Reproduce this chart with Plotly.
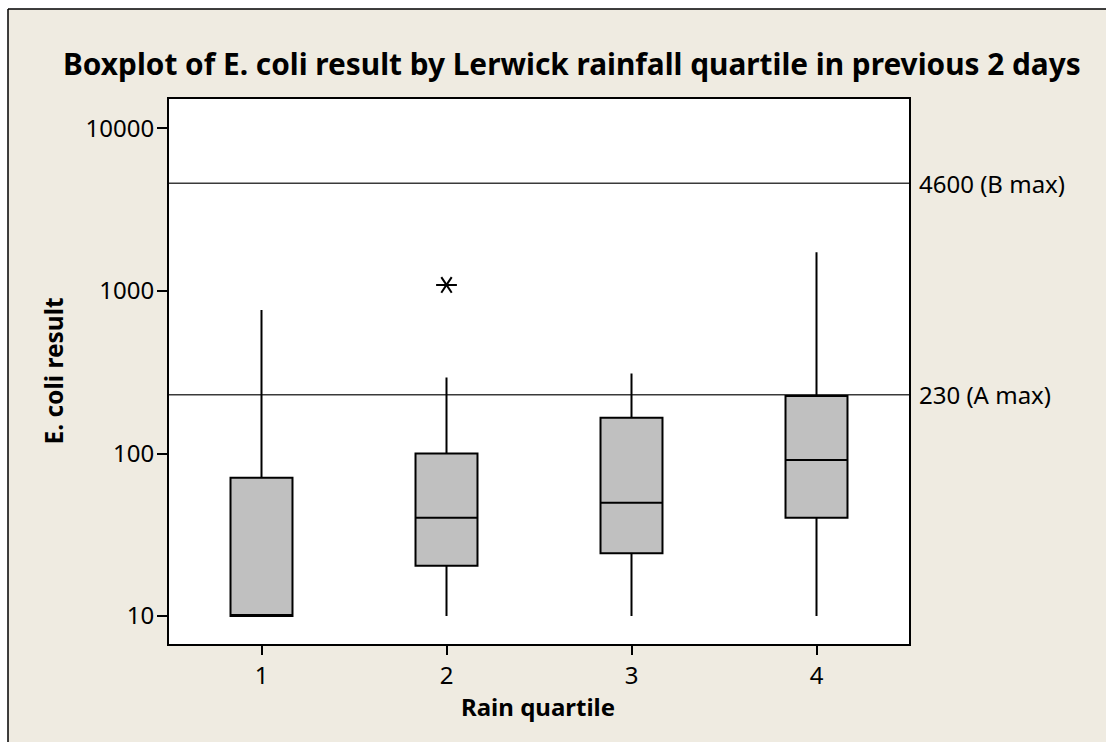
import plotly.graph_objects as go
import math

# Data
quartiles = [1, 2, 3, 4]
q1 = [10, 20.4, 24.3, 40.3]
median = [10, 40.3, 49.8, 91.2]
q3 = [71, 100, 166, 226]
lower_whisker = [10, 10, 10, 10]
upper_whisker = [764, 294, 311, 1730]
outlier_x = [2]
outlier_y = [1090]
ref_values = [4600, 230]
ref_labels = ["4600 (B max)", "230 (A max)"]
y_tickvals = [10, 100, 1000, 10000]
y_ticktext = ["10", "100", "1000", "10000"]

FONT = "Noto Sans"
BG = "#EFEBE1"

fig = go.Figure()

fig.add_trace(go.Box(
    x=quartiles, q1=q1, median=median, q3=q3,
    lowerfence=lower_whisker, upperfence=upper_whisker,
    boxpoints=False, width=0.335,
    fillcolor="#C0C0C0", line=dict(color="black", width=2),
    whiskerwidth=0, showlegend=False, hoverinfo="skip",
))

for sym in ["y-left-open", "y-right-open"]:
    fig.add_trace(go.Scatter(
        x=outlier_x, y=outlier_y, mode="markers",
        marker=dict(symbol=sym, size=13, color="black",
                    line=dict(color="black", width=2)),
        showlegend=False, hoverinfo="skip",
    ))

# margins so plot area = x 169..909, y 99..644
L, R, T, B = 169, 197, 99, 98
W, H = 1106, 742
pw, ph = W - L - R, H - T - B

def px_x(px):
    return (px - L) / pw

def px_y(py):
    return (H - B - py) / ph

shapes = []
for v in ref_values:
    shapes.append(dict(type="line", xref="paper", x0=0, x1=1, yref="y",
                       y0=v, y1=v, line=dict(color="#3A3A3A", width=1.6),
                       layer="below"))

# outer frame: white strips at top/left with black border lines
shapes.append(dict(type="rect", xref="paper", yref="paper",
                   x0=px_x(-5), x1=px_x(W + 5), y0=px_y(9), y1=px_y(-5),
                   fillcolor="white", line=dict(width=0)))
shapes.append(dict(type="rect", xref="paper", yref="paper",
                   x0=px_x(-5), x1=px_x(8), y0=px_y(H + 5), y1=px_y(-5),
                   fillcolor="white", line=dict(width=0)))
shapes.append(dict(type="line", xref="paper", yref="paper",
                   x0=px_x(8), x1=px_x(W + 5), y0=px_y(9), y1=px_y(9),
                   line=dict(color="black", width=1.5)))
shapes.append(dict(type="line", xref="paper", yref="paper",
                   x0=px_x(8), x1=px_x(8), y0=px_y(9), y1=px_y(H + 5),
                   line=dict(color="black", width=1.5)))

annotations = []
for v, lab in zip(ref_values, ref_labels):
    annotations.append(dict(text=lab, xref="paper", x=1, xshift=8,
                            xanchor="left", yref="y", y=math.log10(v),
                            yanchor="middle", showarrow=False,
                            font=dict(family=FONT, size=24, color="black")))

annotations.append(dict(
    text="<b>Boxplot of E. coli result by Lerwick rainfall quartile in previous 2 days</b>",
    xref="paper", yref="paper", x=px_x(572), y=px_y(63),
    xanchor="center", yanchor="middle", showarrow=False,
    font=dict(family=FONT, size=29.8, color="black")))
annotations.append(dict(
    text="<b>Rain quartile</b>", xref="paper", yref="paper",
    x=px_x(538), y=px_y(706), xanchor="center", yanchor="middle",
    showarrow=False, font=dict(family=FONT, size=24, color="black")))
annotations.append(dict(
    text="<b>E. coli result</b>", xref="paper", yref="paper",
    x=px_x(53), y=0.5, xanchor="center", yanchor="middle", textangle=-90,
    showarrow=False, font=dict(family=FONT, size=24.5, color="black")))

fig.update_layout(
    width=W, height=H,
    margin=dict(l=L, r=R, t=T, b=B, pad=0),
    paper_bgcolor=BG, plot_bgcolor="white",
    shapes=shapes, annotations=annotations,
    font=dict(family=FONT, size=24, color="black"),
)

fig.update_xaxes(
    range=[0.5, 4.5], tickvals=quartiles, ticktext=[str(q) for q in quartiles],
    ticks="outside", ticklen=9, tickwidth=2, tickcolor="black",
    showline=True, linecolor="black", linewidth=2, mirror=True,
    showgrid=False, zeroline=False,
    tickfont=dict(family=FONT, size=24, color="black"),
)
fig.update_yaxes(
    type="log", range=[0.8277, 4.1815],
    tickvals=y_tickvals, ticktext=y_ticktext,
    ticks="outside", ticklen=10, tickwidth=2, tickcolor="black",
    showline=True, linecolor="black", linewidth=2, mirror=True,
    showgrid=False, zeroline=False, ticklabelstandoff=-2,
    tickfont=dict(family=FONT, size=24, color="black"),
)

fig.write_html("out.html")
